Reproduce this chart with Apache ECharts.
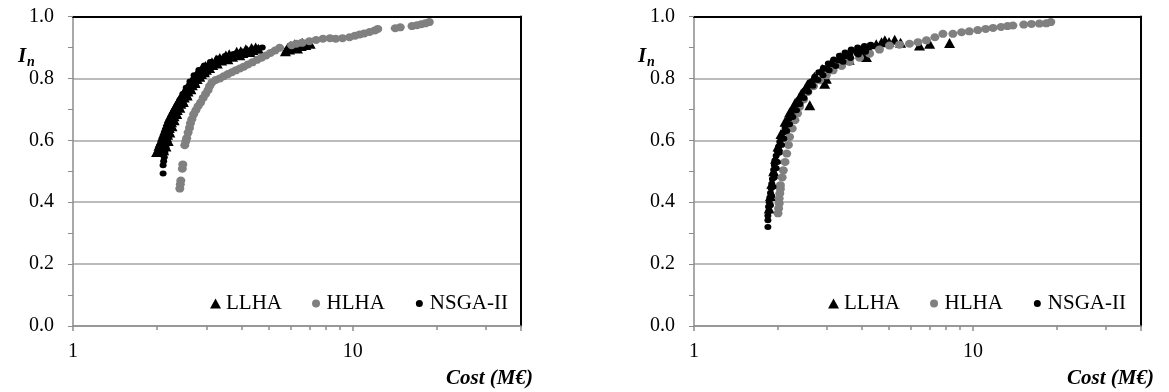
<!DOCTYPE html>
<html>
<head>
<meta charset="utf-8">
<script src="https://cdn.jsdelivr.net/npm/echarts@6/dist/echarts.min.js"></script>
<style>
  html, body { margin: 0; padding: 0; background: #fff; }
  #chart { width: 1169px; height: 392px; }
</style>
</head>
<body>
<div id="chart"></div>
<script>
  var seriesNames = ['LLHA', 'HLHA', 'NSGA-II'];
  var yLimits = [0, 1];
  var xLimits = [1, 40];

  // left panel, [cost M€, In]
  var leftLLHA = [
    [1.99,0.562],[2.06,0.565],[2.11,0.568],[2.03,0.582],[2.09,0.585],[2.15,0.58],
    [2.07,0.6],[2.13,0.603],[2.19,0.598],[2.11,0.622],[2.18,0.618],[2.22,0.625],
    [2.15,0.642],[2.21,0.64],[2.26,0.645],[2.19,0.662],[2.25,0.658],[2.30,0.665],
    [2.24,0.682],[2.30,0.678],[2.35,0.685],[2.30,0.702],[2.36,0.698],[2.41,0.705],
    [2.37,0.722],[2.43,0.718],[2.48,0.724],[2.44,0.742],[2.50,0.738],[2.56,0.745],
    [2.52,0.762],[2.58,0.758],[2.64,0.765],[2.61,0.782],[2.67,0.778],[2.73,0.785],
    [2.71,0.802],[2.78,0.798],[2.84,0.805],[2.81,0.818],[2.88,0.814],[2.95,0.82],
    [2.92,0.832],[3.00,0.828],[3.08,0.834],[3.06,0.846],[3.16,0.843],[3.28,0.848],
    [3.25,0.861],[3.40,0.858],[3.58,0.862],[3.52,0.874],[3.72,0.87],[3.95,0.875],
    [3.85,0.886],[4.05,0.882],[4.3,0.885],[4.15,0.894],[4.4,0.892],[4.6,0.896],
    [2.02,0.572],[2.09,0.575],[2.05,0.592],[2.12,0.594],[2.09,0.612],[2.16,0.61],
    [2.13,0.632],[2.2,0.63],[2.17,0.652],[2.24,0.65],[2.21,0.672],[2.28,0.67],
    [2.27,0.692],[2.33,0.69],[2.33,0.712],[2.39,0.71],[2.40,0.732],[2.46,0.73],
    [2.48,0.752],[2.54,0.75],[2.56,0.772],[2.62,0.77],[2.65,0.792],[2.72,0.79],
    [2.75,0.81],[2.82,0.81],[2.86,0.826],[2.94,0.824],[2.98,0.84],[3.06,0.836],
    [3.14,0.852],[3.24,0.85],[3.35,0.866],[3.48,0.866],[3.62,0.878],[3.80,0.877],
    [3.98,0.888],[4.2,0.889],[4.35,0.898],[4.5,0.9],
    [5.75,0.888],[5.95,0.893],[6.15,0.9],[6.35,0.897],[6.55,0.905],[6.8,0.908],
    [7.05,0.912],[6.2,0.91],[6.6,0.915],[6.0,0.905],[5.85,0.898],[6.45,0.91]
  ];
  var leftHLHA = [
    [2.41,0.444],[2.42,0.458],[2.43,0.47],[2.46,0.508],[2.47,0.522],[2.51,0.584],
    [2.53,0.596],[2.55,0.607],[2.58,0.625],[2.61,0.64],[2.63,0.655],[2.66,0.668],
    [2.70,0.684],[2.75,0.697],[2.80,0.71],[2.86,0.722],[2.92,0.737],[2.98,0.75],
    [3.04,0.762],[3.08,0.775],[3.14,0.787],[3.24,0.795],[3.35,0.8],[3.46,0.807],
    [3.58,0.814],[3.70,0.82],[3.82,0.826],[3.95,0.832],[4.08,0.838],[4.22,0.845],
    [4.38,0.852],[4.55,0.86],[4.72,0.867],[4.9,0.874],[5.08,0.882],[5.28,0.89],
    [5.48,0.899],[6.05,0.907],[6.3,0.912],[6.6,0.915],[7.0,0.92],[7.4,0.924],
    [7.83,0.928],[8.3,0.93],[8.7,0.928],[9.2,0.93],[9.75,0.933],[10.2,0.938],
    [10.6,0.942],[11.0,0.945],[11.5,0.95],[12.0,0.955],[12.3,0.96],[14.2,0.962],
    [14.8,0.965],[16.3,0.969],[17.0,0.972],[17.6,0.975],[18.2,0.978],[18.8,0.982]
  ];
  var leftNSGA = [
    [2.10,0.493],[2.10,0.519],[2.11,0.532],[2.12,0.545],[2.13,0.56],[2.15,0.575],
    [2.17,0.59],[2.19,0.61],[2.21,0.63],[2.24,0.65],[2.27,0.67],[2.31,0.69],
    [2.36,0.71],[2.41,0.73],[2.47,0.75],[2.54,0.77],[2.62,0.79],[2.71,0.81],
    [2.82,0.827],[2.95,0.842],[3.1,0.853],[3.3,0.864],[3.5,0.872],[3.75,0.879],
    [4.0,0.886],[4.3,0.891],[4.6,0.897],[4.75,0.9]
  ];

  // right panel
  var rightLLHA = [
    [1.86,0.38],[1.88,0.42],[1.9,0.46],[1.93,0.5],[1.96,0.54],[2.0,0.58],
    [2.05,0.62],[2.12,0.66],[2.2,0.69],[2.3,0.72],[2.42,0.75],[2.55,0.78],
    [2.7,0.805],[2.88,0.83],[3.1,0.85],[3.35,0.868],[3.6,0.88],[3.9,0.89],
    [4.2,0.9],[4.5,0.91],[4.7,0.917],[5.0,0.918],[5.5,0.915],
    [2.60,0.713],[2.94,0.783],[2.98,0.799],[3.6,0.86],[4.0,0.878],[4.15,0.869],
    [4.83,0.923],[5.24,0.925],[6.43,0.906],[6.99,0.912],[8.24,0.914]
  ];
  var rightHLHA = [
    [2.0,0.364],[2.01,0.38],[2.02,0.396],[2.02,0.412],[2.03,0.428],[2.04,0.443],
    [2.04,0.455],[2.07,0.48],[2.09,0.503],[2.12,0.53],[2.15,0.557],[2.18,0.585],
    [2.2,0.611],[2.25,0.638],[2.30,0.665],[2.35,0.687],[2.39,0.708],[2.47,0.732],
    [2.56,0.756],[2.68,0.775],[2.82,0.794],[2.98,0.81],[3.15,0.826],[3.38,0.84],
    [3.61,0.853],[3.92,0.867],[4.26,0.88],[4.62,0.893],[5.02,0.906],[5.45,0.909],
    [5.92,0.912],[6.35,0.917],[6.81,0.923],[7.3,0.933],[7.8,0.944],[8.47,0.944],
    [9.1,0.949],[9.7,0.952],[10.4,0.956],[11.1,0.96],[11.8,0.963],[12.6,0.966],
    [13.3,0.969],[13.9,0.971],[15.2,0.974],[16.2,0.976],[17.3,0.977],[18.3,0.978],
    [19.0,0.982]
  ];
  var rightNSGA = [
    [1.84,0.32],[1.84,0.342],[1.84,0.356],[1.85,0.37],
    [1.85,0.385],[1.86,0.40],[1.87,0.415],[1.88,0.43],[1.89,0.445],[1.9,0.46],
    [1.91,0.475],[1.92,0.49],[1.93,0.505],[1.94,0.52],[1.95,0.535],[1.97,0.55],
    [1.99,0.565],[2.01,0.58],[2.03,0.595],[2.06,0.61],[2.09,0.625],[2.12,0.64],
    [2.15,0.655],[2.19,0.67],[2.23,0.685],[2.27,0.70],[2.32,0.715],[2.37,0.73],
    [2.43,0.745],[2.49,0.76],[2.56,0.775],[2.63,0.79],[2.71,0.805],[2.80,0.82],
    [2.91,0.834],[3.03,0.848],[3.17,0.861],[3.32,0.873],[3.48,0.884],[3.66,0.893],
    [3.86,0.9],[4.08,0.905],[4.3,0.909],
    [1.88,0.39],[1.9,0.42],[1.92,0.45],[1.94,0.48],[1.97,0.51],[1.99,0.53],
    [2.02,0.56],[2.06,0.585],[2.1,0.605],[2.15,0.63],[2.2,0.652],[2.26,0.675],
    [2.33,0.697],[2.4,0.717],[2.48,0.737],[2.57,0.757],[2.67,0.776],[2.78,0.795],
    [2.9,0.81],[3.05,0.826],[3.22,0.84],[3.42,0.854],[3.64,0.866],[3.88,0.877],
    [4.12,0.886],
    [2.85,0.818],[2.97,0.832],[3.12,0.846],[3.28,0.858],[3.45,0.87],[3.62,0.879],
    [3.8,0.888],[4.0,0.895],[4.22,0.9],[2.52,0.765],[2.6,0.78],[2.7,0.795]
  ];

  var colorGray = '#808080';
  var colorAxis = '#8c8c8c';
  var colorGrid = '#a6a6a6';
  var serif = 'Liberation Serif';

  var chart = echarts.init(document.getElementById('chart'));

  function xAxisMain(idx) {
    return {
      type: 'log', logBase: 10, gridIndex: idx, min: xLimits[0], max: xLimits[1],
      axisLine: { onZero: false, lineStyle: { color: colorAxis, width: 1.5 } },
      axisTick: { show: true, length: 5, lineStyle: { color: colorAxis, width: 1.5 } },
      minorTick: { show: true, splitNumber: 9, length: 4, lineStyle: { color: colorAxis, width: 1.5 } },
      axisLabel: { color: '#000', fontFamily: serif, fontSize: 20, margin: 16, showMaxLabel: false },
      splitLine: { show: false }
    };
  }
  function xAxisTop(idx) {
    return {
      type: 'log', logBase: 10, gridIndex: idx, position: 'top', min: xLimits[0], max: xLimits[1],
      axisLine: { onZero: false, lineStyle: { color: '#000', width: 2 } },
      axisTick: { show: false }, axisLabel: { show: false }, splitLine: { show: false }
    };
  }
  function yAxisMain(idx) {
    return {
      type: 'value', gridIndex: idx, min: yLimits[0], max: yLimits[1], interval: 0.2,
      axisLine: { show: true, onZero: false, lineStyle: { color: colorAxis, width: 1.5 } },
      axisTick: { show: true, length: 5, lineStyle: { color: colorAxis } },
      minorTick: { show: true, splitNumber: 2, length: 5, lineStyle: { color: colorAxis } },
      axisLabel: { color: '#000', fontFamily: serif, fontSize: 20, margin: 19,
        formatter: function (v) { return v.toFixed(1); } },
      splitLine: { lineStyle: { color: colorGrid, width: 1.5 } }
    };
  }
  function yAxisRight(idx) {
    return {
      type: 'value', gridIndex: idx, position: 'right', min: yLimits[0], max: yLimits[1],
      axisLine: { show: true, onZero: false, lineStyle: { color: '#000', width: 2 } },
      axisTick: { show: false }, axisLabel: { show: false }, splitLine: { show: false }
    };
  }
  function legendAt(right) {
    return {
      right: right, top: 288, itemGap: 28, itemWidth: 11, itemHeight: 10,
      textStyle: { color: '#000', fontFamily: serif, fontSize: 21 },
      data: [
        { name: seriesNames[0], icon: 'triangle' },
        { name: seriesNames[1], icon: 'circle', itemStyle: { borderColor: '#fff', borderWidth: 2 } },
        { name: seriesNames[2], icon: 'circle', itemStyle: { borderColor: '#fff', borderWidth: 3 } }
      ]
    };
  }
  function scatterSet(idx, llha, hlha, nsga) {
    return [
      { name: seriesNames[0], type: 'scatter', xAxisIndex: idx * 2, yAxisIndex: idx * 2,
        symbol: 'triangle', symbolSize: [11, 10], itemStyle: { color: '#000', opacity: 1 }, data: llha },
      { name: seriesNames[1], type: 'scatter', xAxisIndex: idx * 2, yAxisIndex: idx * 2,
        symbol: 'circle', symbolSize: [9, 8], itemStyle: { color: colorGray, opacity: 1 }, data: hlha },
      { name: seriesNames[2], type: 'scatter', xAxisIndex: idx * 2, yAxisIndex: idx * 2,
        symbol: 'circle', symbolSize: [7, 6], itemStyle: { color: '#000', opacity: 1 }, data: nsga }
    ];
  }
  var titleStyle = { color: '#000', fontFamily: serif, fontStyle: 'italic', fontWeight: 'bold' };

  chart.setOption({
    animation: false,
    title: [
      { text: 'I', left: 13, top: 41, textStyle: Object.assign({ fontSize: 21 }, titleStyle) },
      { text: 'n', left: 22, top: 50, textStyle: Object.assign({ fontSize: 14 }, titleStyle) },
      { text: 'I', left: 633, top: 41, textStyle: Object.assign({ fontSize: 21 }, titleStyle) },
      { text: 'n', left: 642, top: 50, textStyle: Object.assign({ fontSize: 14 }, titleStyle) },
      { text: 'Cost (M€)', right: 631, top: 363, textStyle: Object.assign({ fontSize: 21 }, titleStyle) },
      { text: 'Cost (M€)', right: 10, top: 363, textStyle: Object.assign({ fontSize: 21 }, titleStyle) }
    ],
    legend: [legendAt(656), legendAt(38)],
    grid: [
      { left: 73, top: 16.5, width: 448, height: 309.5 },
      { left: 694, top: 16.5, width: 447, height: 309.5 }
    ],
    xAxis: [xAxisMain(0), xAxisTop(0), xAxisMain(1), xAxisTop(1)],
    yAxis: [yAxisMain(0), yAxisRight(0), yAxisMain(1), yAxisRight(1)],
    series: scatterSet(0, leftLLHA, leftHLHA, leftNSGA).concat(scatterSet(1, rightLLHA, rightHLHA, rightNSGA))
  });
</script>
</body>
</html>
